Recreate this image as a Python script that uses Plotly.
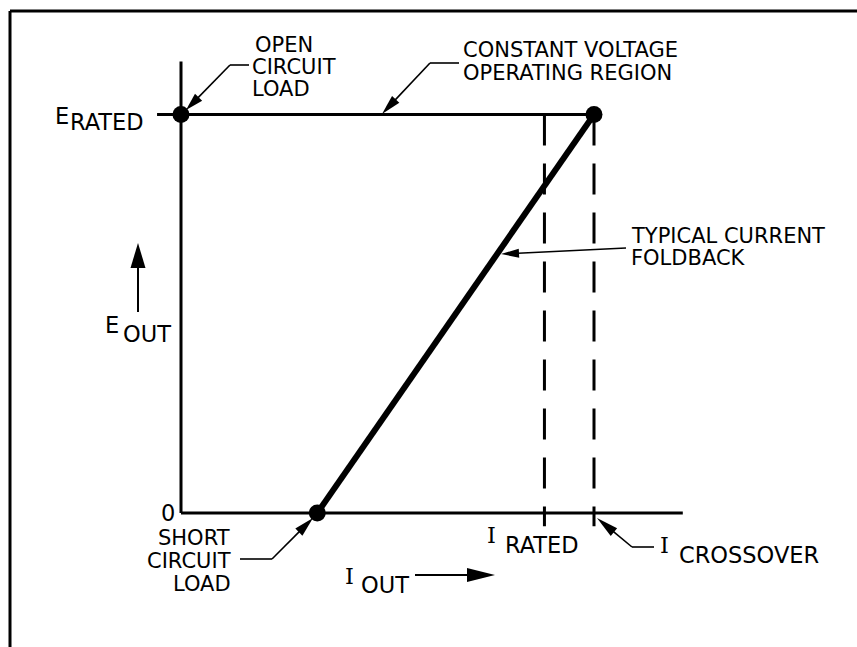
import math
import plotly.graph_objects as go

W, H = 857, 647

# Operating points, normalised so that I_CROSSOVER = 1 and E_RATED = 1
E_RATED = 1.0
I_SHORT = 0.33
I_RATED = 0.88
I_CROSSOVER = 1.0
I_AXIS_END = 1.215
E_AXIS_TOP = 1.133
E_TICK_LOW = -0.033
I_TICK_LEFT = -0.058

foldback_i = [I_SHORT, I_CROSSOVER]
foldback_e = [0.0, E_RATED]
cv_i = [0.0, I_CROSSOVER]
cv_e = [E_RATED, E_RATED]
dot_i = [0.0, I_CROSSOVER, I_SHORT]
dot_e = [E_RATED, E_RATED, 0.0]
limit_i = [I_RATED, I_CROSSOVER]

# Axis scale: pixel position of the origin and pixels per unit
X0, Y0 = 181, 513
SX, SY = 413, 398.5

INK = "black"
FONT = "DejaVu Sans"
SERIF = "DejaVu Serif"
FS = 22.5      # single-line labels
FS_BLOCK = 21  # stacked callout text


def P(px, py):
    """pixel -> paper coordinates"""
    return px / W, 1 - py / H


fig = go.Figure()

# axes
fig.add_trace(go.Scatter(x=[0, 0], y=[0, E_AXIS_TOP], mode="lines",
                         line=dict(color=INK, width=3), hoverinfo="skip"))
fig.add_trace(go.Scatter(x=[0, I_AXIS_END], y=[0, 0], mode="lines",
                         line=dict(color=INK, width=3), hoverinfo="skip"))
fig.add_trace(go.Scatter(x=[I_TICK_LEFT, 0], y=[E_RATED, E_RATED], mode="lines",
                         line=dict(color=INK, width=3), hoverinfo="skip"))

# constant voltage region
fig.add_trace(go.Scatter(x=cv_i, y=cv_e, mode="lines",
                         line=dict(color=INK, width=3), hoverinfo="skip"))

# rated / crossover current markers
for xi in limit_i:
    fig.add_trace(go.Scatter(x=[xi, xi], y=[E_RATED, E_TICK_LOW], mode="lines",
                             line=dict(color=INK, width=3, dash="31px,18px"),
                             hoverinfo="skip"))

# foldback characteristic
fig.add_trace(go.Scatter(x=foldback_i, y=foldback_e, mode="lines",
                         line=dict(color=INK, width=6), hoverinfo="skip"))

# load points
fig.add_trace(go.Scatter(x=dot_i, y=dot_e, mode="markers",
                         marker=dict(color=INK, size=17), hoverinfo="skip"))

shapes = []


def seg(a, b, width=1.6):
    x0, y0 = P(*a)
    x1, y1 = P(*b)
    shapes.append(dict(type="line", xref="paper", yref="paper",
                       x0=x0, y0=y0, x1=x1, y1=y1,
                       line=dict(color=INK, width=width)))


def arrow(tail, tip, length, hw, width=1.6):
    dx, dy = tip[0] - tail[0], tip[1] - tail[1]
    d = math.hypot(dx, dy)
    ux, uy = dx / d, dy / d
    bx, by = tip[0] - ux * length, tip[1] - uy * length
    nx, ny = -uy, ux
    seg(tail, (bx + ux * 1.0, by + uy * 1.0), width)
    pts = [tip, (bx + nx * hw, by + ny * hw), (bx - nx * hw, by - ny * hw)]
    pp = [P(*p) for p in pts]
    path = "M {:.5f},{:.5f} L {:.5f},{:.5f} L {:.5f},{:.5f} Z".format(
        pp[0][0], pp[0][1], pp[1][0], pp[1][1], pp[2][0], pp[2][1])
    shapes.append(dict(type="path", xref="paper", yref="paper", path=path,
                       fillcolor=INK, line=dict(width=0)))


# frame
seg((10, 11), (857, 11), 3)
seg((10, 11), (10, 647), 3)

# leaders
seg((249, 65), (230, 65))
arrow((230, 65), (186, 110), 18, 5)

seg((459, 63), (430, 63))
arrow((430, 63), (382, 114), 20, 5)

arrow((626, 248), (501, 254), 18, 4.5)

seg((240, 559), (272, 559))
arrow((272, 559), (313, 518), 20, 5)

seg((654, 547), (632, 547))
arrow((632, 547), (597, 518), 22, 5)

# direction arrows for the axis quantities
arrow((138, 312), (138, 243), 25, 7.5, 2)
arrow((415, 575), (495, 575), 28, 7, 2)

annotations = []


def label(text, px, py, anchor="left", font=FONT, size=FS):
    x, y = P(px, py)
    annotations.append(dict(text=text, x=x, y=y, xref="paper", yref="paper",
                            xanchor=anchor, yanchor="middle", showarrow=False,
                            font=dict(family=font, size=size, color=INK)))


label("OPEN", 253, 45, size=FS_BLOCK)
label("CIRCUIT", 250, 67, size=FS_BLOCK)
label("LOAD", 250, 89, size=FS_BLOCK)

label("CONSTANT VOLTAGE", 461, 50, size=FS_BLOCK)
label("OPERATING REGION", 461, 73, size=FS_BLOCK)

label("E", 53, 116)
label("RATED", 68, 122)

label("TYPICAL CURRENT", 629, 236, size=FS_BLOCK)
label("FOLDBACK", 629, 258, size=FS_BLOCK)

label("E", 103, 325)
label("OUT", 121, 334)

label("0", 168, 513, anchor="center")

label("SHORT", 232, 538, anchor="right", size=FS_BLOCK)
label("CIRCUIT", 233, 561, anchor="right", size=FS_BLOCK)
label("LOAD", 233, 584, anchor="right", size=FS_BLOCK)

label("I", 343, 576, font=SERIF)
label("OUT", 359, 585)

label("I", 485, 535, font=SERIF)
label("RATED", 503, 545)

label("I", 658, 545, font=SERIF)
label("CROSSOVER", 677, 555)

fig.update_layout(
    width=W, height=H,
    margin=dict(l=0, r=0, t=0, b=0),
    paper_bgcolor="white", plot_bgcolor="white",
    showlegend=False,
    xaxis=dict(range=[-X0 / SX, (W - X0) / SX], visible=False, fixedrange=True),
    yaxis=dict(range=[(Y0 - H) / SY, Y0 / SY], visible=False, fixedrange=True),
    shapes=shapes,
    annotations=annotations,
)

fig.write_html("out.html")
